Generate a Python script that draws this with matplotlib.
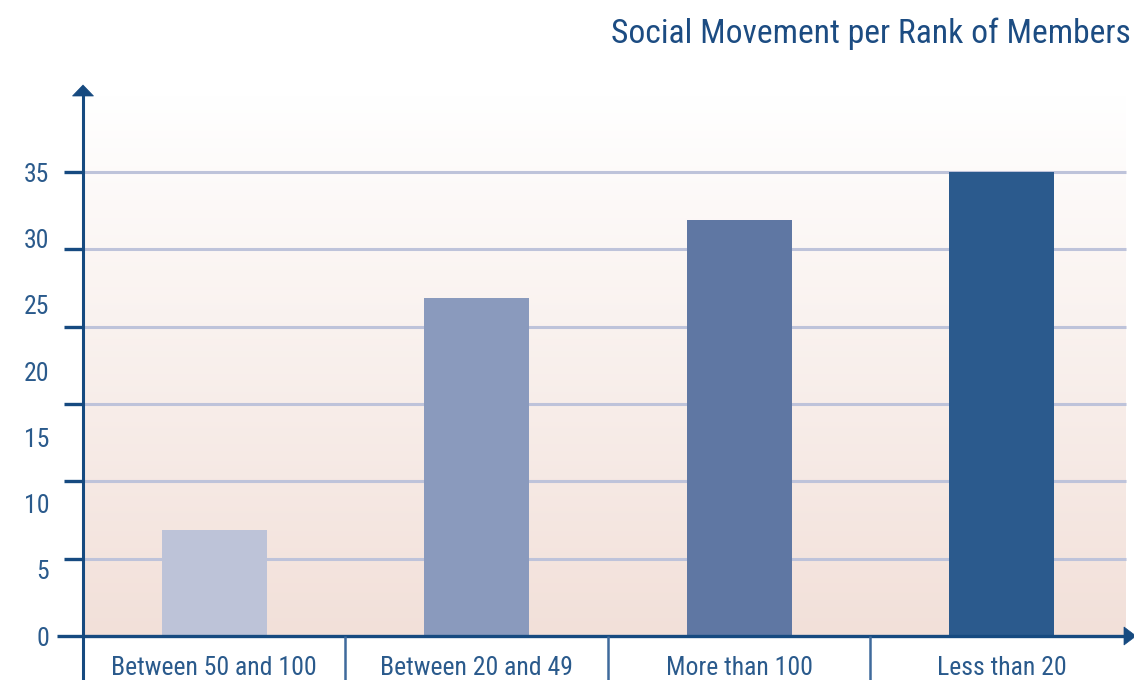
import numpy as np
import matplotlib
matplotlib.use("Agg")
import matplotlib.pyplot as plt
from matplotlib.transforms import blended_transform_factory as btf
from matplotlib.patches import Polygon
from matplotlib import font_manager

categories = ["Between 50 and 100", "Between 20 and 49", "More than 100", "Less than 20"]
values = [8.0, 25.5, 31.4, 35.0]
bar_colors = ["#bdc3d8", "#8a9abd", "#5f77a3", "#2b5a8d"]
ytick_labels = ["0", "5", "10", "15", "20", "25", "30", "35"]
ytick_values = [0, 5, 10, 15, 20, 25, 30, 35]
title = "Social Movement per Rank of Members"

names = {f.name for f in font_manager.fontManager.ttflist}
fam = "DejaVu Sans"
condensed = False
for cand in ["Roboto Condensed", "Liberation Sans Narrow", "Open Sans Condensed", "DejaVu Sans Condensed"]:
    if cand in names:
        fam = cand
        condensed = True
        break
if not condensed:
    for cand in ["Roboto", "Liberation Sans", "Lato"]:
        if cand in names:
            fam = cand
            break
plt.rcParams['font.family'] = [fam, 'DejaVu Sans']

W, H = 1134, 680
fig = plt.figure(figsize=(W / 100, H / 100), dpi=100)
fig.patch.set_facecolor("white")

px_per_unit = 464 / 35.0
y0_px = 636
top_px = 84
ax_left = 83 / W
ax_right = 1133 / W
ax_bottom = (H - y0_px) / H
ax_top = (H - top_px) / H
ax = fig.add_axes([ax_left, ax_bottom, ax_right - ax_left, ax_top - ax_bottom])
ymax = (y0_px - top_px) / px_per_unit
ax.set_xlim(0, 4)
ax.set_ylim(0, ymax)
ax.axis("off")

axis_col = "#164a80"
text_col = "#2a5a8c"
grid_col = "#bec3da"

def xd(px):
    return (px - 83) / 262.5

def yd(px):
    return (y0_px - px) / px_per_unit

# gradient background
grad_top = yd(95)
n = 256
t = np.linspace(0, 1, n)[:, None]
top_c = np.array([1.0, 1.0, 1.0])
bot_c = np.array([0xf2, 0xe0, 0xd9]) / 255
img = (1 - t) * bot_c + t * top_c
img = np.repeat(img[:, None, :], 2, axis=1)
ax.imshow(img, extent=[0, xd(1126), 0, grad_top], origin="lower", aspect="auto", zorder=0, interpolation="bilinear")

# gridlines (six equal intervals between 0 and the top value)
grid_vals = [35 * k / 6 for k in range(1, 7)]
for g in grid_vals:
    ax.plot([0, xd(1126)], [g, g], color=grid_col, lw=2.2, zorder=1, solid_capstyle="butt")
    ax.plot([xd(64), 0], [g, g], color=axis_col, lw=2.4, zorder=4, clip_on=False, solid_capstyle="butt")

# bars
x = np.arange(len(categories)) + 0.5
ax.bar(x, values, width=0.4, color=bar_colors, zorder=2)

# axes lines
ax.plot([0, 0], [yd(680), yd(95)], color=axis_col, lw=2.2, zorder=5, clip_on=False, solid_capstyle="butt")
ax.plot([xd(57), xd(1128)], [0, 0], color=axis_col, lw=2.4, zorder=5, clip_on=False, solid_capstyle="butt")
arrow_up = Polygon([[xd(72.5), yd(96)], [xd(93.5), yd(96)], [xd(83), yd(85)]], closed=True,
                   facecolor=axis_col, edgecolor=axis_col, lw=0.5, clip_on=False, zorder=6)
ax.add_patch(arrow_up)
arrow_r = Polygon([[xd(1124), yd(627)], [xd(1124), yd(645)], [xd(1136), yd(636)]], closed=True,
                  facecolor=axis_col, edgecolor=axis_col, lw=0.5, clip_on=False, zorder=6)
ax.add_patch(arrow_r)

# category separators
for sx in [345, 608, 870]:
    ax.plot([xd(sx), xd(sx)], [0, yd(680)], color="#3f6a9c", lw=1.8, zorder=5, clip_on=False,
            solid_capstyle="butt")

fs_tick = 18.5
fs_title = 24.2

# y tick labels
tl = btf(fig.transFigure, ax.transData)
for v, lab in zip(ytick_values, ytick_labels):
    ax.text(49 / W, v - 0.2, lab, transform=tl, ha="right", va="center", fontsize=fs_tick, color=text_col)

# category labels
cl = btf(ax.transData, fig.transFigure)
for xi, lab in zip(x, categories):
    ax.text(xi, (H - 675) / H, lab, transform=cl, ha="center", va="baseline", fontsize=fs_tick, color=text_col)

fig.text(1131 / W, (H - 43) / H, title, ha="right", va="baseline", fontsize=fs_title, color="#1c4c82")

fig.savefig("out.png", dpi=100, facecolor="white")
